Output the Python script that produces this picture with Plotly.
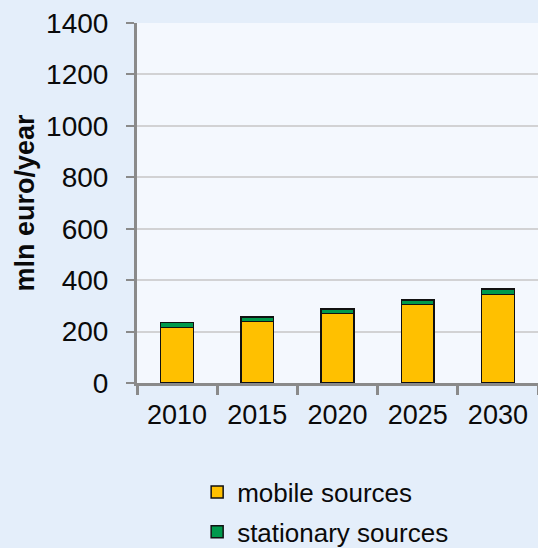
import plotly.graph_objects as go

years = ["2010", "2015", "2020", "2025", "2030"]
mobile = [215, 240, 271, 306, 345]
stationary = [21, 17, 16, 16, 21]

paper_bg = "#E4EEFA"
plot_bg = "#F4F8FE"
font_fam = "Liberation Sans, Arial, sans-serif"
ink = "#0A0A0A"

fig = go.Figure()
fig.add_trace(go.Bar(x=years, y=mobile, name="mobile sources",
                     marker=dict(color="#FFC000", line=dict(color="#111111", width=1.5)),
                     width=0.41, legendgroup="a"))
fig.add_trace(go.Bar(x=years, y=stationary, name="stationary sources",
                     marker=dict(color="#00994C", line=dict(color="#111111", width=1.5)),
                     width=0.41, legendgroup="b"))

fig.update_layout(
    width=538, height=548,
    margin=dict(l=137, r=0, t=23, b=165, autoexpand=False),
    barmode="stack",
    paper_bgcolor=paper_bg, plot_bgcolor=plot_bg,
    font=dict(family=font_fam, size=26, color=ink),
    showlegend=True,
    legend=dict(x=0.15, y=0.145, xref="paper", yref="container",
                xanchor="left", yanchor="top",
                traceorder="grouped", tracegroupgap=3,
                bgcolor="rgba(0,0,0,0)",
                font=dict(family=font_fam, size=26, color=ink)),
    yaxis=dict(range=[0, 1400], dtick=200, showgrid=True, gridcolor="#D2D2D4",
               gridwidth=1.5, showline=True, linecolor="#8A8A8A", linewidth=3,
               ticks="outside", ticklen=8, tickcolor="#8A8A8A", tickwidth=2,
               zeroline=False, ticklabelstandoff=12,
               tickfont=dict(family=font_fam, size=28, color=ink),
               title=dict(text="<b>mln euro/year</b>", standoff=4,
                          font=dict(family=font_fam, size=27, color=ink))),
    xaxis=dict(showline=True, linecolor="#8A8A8A", linewidth=3,
               ticks="outside", tickson="boundaries", ticklen=9,
               tickcolor="#8A8A8A", tickwidth=3, ticklabelstandoff=6,
               tickfont=dict(family=font_fam, size=27, color=ink)),
)

fig.write_html("out.html")
